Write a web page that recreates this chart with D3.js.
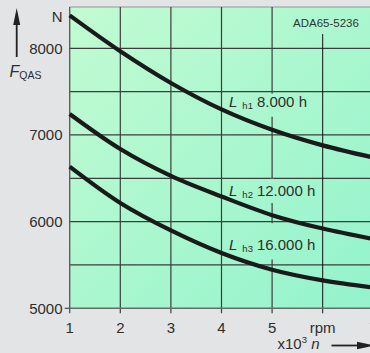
<!DOCTYPE html>
<html><head><meta charset="utf-8">
<script src="https://cdn.jsdelivr.net/npm/d3@7"></script>
<style>body{margin:0;background:#e3e4e6;}svg{display:block;font-family:"Liberation Sans",Arial,sans-serif;}</style>
</head><body>
<script>
const speeds = [1, 2, 3, 4, 5, 6, 7];
const lh1 = [8380, 7966, 7600, 7295, 7060, 6880, 6740];
const lh2 = [7242, 6838, 6528, 6290, 6075, 5920, 5800];
const lh3 = [6634, 6215, 5898, 5638, 5445, 5322, 5240];
const seriesNames = [["h1", "8.000 h"], ["h2", "12.000 h"], ["h3", "16.000 h"]];
const yTicks = [5000, 6000, 7000, 8000];
const yGrid = [5500, 6000, 6500, 7000, 7500, 8000];
const xTicks = [1, 2, 3, 4, 5, 6, 7];
const xTickLabels = ["1", "2", "3", "4", "5", "rpm", "7"];
const docId = "ADA65-5236";

(function () {
const W = 370, H = 353;
const svg = d3.select("body").append("svg").attr("width", W).attr("height", H);
const x = d3.scaleLinear().domain([1, 7]).range([69.7, 373.3]);
const y = d3.scaleLinear().domain([5000, 8000]).range([308.3, 48.3]);
const pTop = 7, pBottom = 308.3, pLeft = 69.7, pRight = 400;

const defs = svg.append("defs");
const g = defs.append("linearGradient").attr("id", "bg").attr("gradientUnits", "userSpaceOnUse")
  .attr("x1", pLeft).attr("y1", pTop).attr("x2", 370).attr("y2", pBottom);
g.append("stop").attr("offset", 0).attr("stop-color", "#c2fbd2");
g.append("stop").attr("offset", 1).attr("stop-color", "#93f3cc");

svg.append("rect").attr("x", pLeft).attr("y", pTop).attr("width", pRight - pLeft).attr("height", pBottom - pTop).attr("fill", "url(#bg)");
svg.append("line").attr("x1", pLeft).attr("x2", pRight).attr("y1", pTop).attr("y2", pTop).attr("stroke", "#8a9a90").attr("stroke-width", 1);

const gridColor = "#3d3d3d";
svg.append("g").selectAll("line").data(yGrid).join("line")
  .attr("x1", pLeft).attr("x2", pRight).attr("y1", d => y(d)).attr("y2", d => y(d))
  .attr("stroke", gridColor).attr("stroke-width", 1.2);
svg.append("g").selectAll("line").data([2, 3, 4, 5]).join("line")
  .attr("x1", d => x(d)).attr("x2", d => x(d)).attr("y1", pTop).attr("y2", pBottom + 5)
  .attr("stroke", gridColor).attr("stroke-width", 1.2);
svg.append("line").attr("x1", x(6)).attr("x2", x(6)).attr("y1", 34).attr("y2", pBottom + 5)
  .attr("stroke", "#111").attr("stroke-width", 1);
svg.append("line").attr("x1", x(7)).attr("x2", x(7)).attr("y1", pBottom).attr("y2", pBottom + 5)
  .attr("stroke", gridColor).attr("stroke-width", 1.2);

const masks = [[93.6, 116.7], [178.8, 203], [223.2, 259.5]];
svg.append("g").selectAll("rect").data(masks).join("rect")
  .attr("x", x(5) - 2).attr("width", 4).attr("y", d => d[0]).attr("height", d => d[1] - d[0])
  .attr("fill", "url(#bg)");

svg.append("line").attr("x1", pLeft).attr("x2", pLeft).attr("y1", pTop).attr("y2", pBottom + 5)
  .attr("stroke", "#555").attr("stroke-width", 1.3);
svg.append("line").attr("x1", pLeft).attr("x2", pRight).attr("y1", pBottom).attr("y2", pBottom)
  .attr("stroke", "#6a6a6a").attr("stroke-width", 1.4);
svg.append("line").attr("x1", pLeft - 5).attr("x2", pLeft).attr("y1", y(5000)).attr("y2", y(5000))
  .attr("stroke", "#555").attr("stroke-width", 1.3);

const line = d3.line().x((d, i) => x(speeds[i])).y(d => y(d)).curve(d3.curveCatmullRom.alpha(0.5));
svg.append("g").selectAll("path").data([lh1, lh2, lh3]).join("path")
  .attr("d", line).attr("fill", "none").attr("stroke", "#1a1a1a").attr("stroke-width", 4.2);

svg.append("g").selectAll("text").data(yTicks).join("text")
  .attr("x", 62.5).attr("y", d => y(d) + 5.3).attr("text-anchor", "end")
  .attr("font-size", 15).attr("fill", "#2e2e2e").text(d => d);
svg.append("text").attr("x", 62.5).attr("y", 22).attr("text-anchor", "end")
  .attr("font-size", 15).attr("fill", "#2e2e2e").text("N");

svg.append("g").selectAll("text").data(xTicks).join("text")
  .attr("x", d => x(d)).attr("y", 332.5).attr("text-anchor", "middle")
  .attr("font-size", 15).attr("fill", "#2e2e2e").text((d, i) => xTickLabels[i]);

svg.append("line").attr("x1", 16.7).attr("x2", 16.7).attr("y1", 57).attr("y2", 20).attr("stroke", "#222").attr("stroke-width", 1.8);
svg.append("path").attr("d", "M16.7,8 L13.2,25 L20.2,25 Z").attr("fill", "#222");
const ft = svg.append("text").attr("x", 9.5).attr("y", 77).attr("font-size", 16).attr("fill", "#2e2e2e");
ft.append("tspan").attr("font-style", "italic").text("F");
ft.append("tspan").attr("font-size", 10.5).attr("dy", 2).text("QAS");

const xt = svg.append("text").attr("x", 277.5).attr("y", 349).attr("font-size", 15).attr("fill", "#2e2e2e");
xt.append("tspan").text("x10");
xt.append("tspan").attr("font-size", 9.5).attr("dy", -6).text("3");
xt.append("tspan").attr("dy", 6).attr("font-style", "italic").text(" n");
svg.append("line").attr("x1", 331.5).attr("x2", 360).attr("y1", 345.5).attr("y2", 345.5).attr("stroke", "#222").attr("stroke-width", 1.8);
svg.append("path").attr("d", "M375,345.5 L357,341.8 L357,349.2 Z").attr("fill", "#222");

svg.append("text").attr("x", 326).attr("y", 26.5).attr("text-anchor", "middle")
  .attr("font-size", 11.5).attr("fill", "#333").text(docId);

const labelY = [107, 195.5, 250];
seriesNames.forEach((s, i) => {
  const t = svg.append("text").attr("x", 229).attr("y", labelY[i]).attr("font-size", 15).attr("fill", "#2e2e2e");
  t.append("tspan").attr("font-style", "italic").text("L");
  t.append("tspan").attr("font-size", 9.5).attr("dx", 5).attr("dy", 2).text(s[0]);
  t.append("tspan").attr("dy", -2).attr("dx", 4).text(s[1]);
});
})();
</script>
</body></html>
